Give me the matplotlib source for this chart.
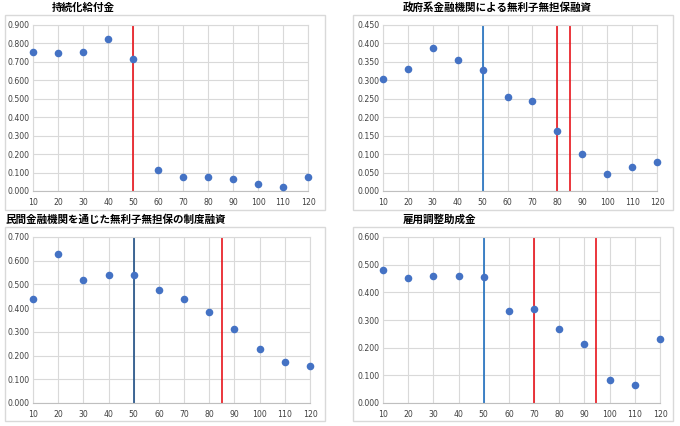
import numpy as np
import matplotlib.pyplot as plt
from matplotlib.patches import Rectangle
from matplotlib.ticker import FormatStrFormatter

plt.rcParams['font.family'] = ['Noto Sans CJK JP', 'DejaVu Sans']

# Data
x = [10, 20, 30, 40, 50, 60, 70, 80, 90, 100, 110, 120]

titles = ["持続化給付金",
          "政府系金融機関による無利子無担保融資",
          "民間金融機関を通じた無利子無担保の制度融資",
          "雇用調整助成金"]

kyufukin = [0.756, 0.747, 0.752, 0.823, 0.714, 0.116, 0.074, 0.076, 0.063, 0.036, 0.024, 0.078]
seifukei = [0.304, 0.330, 0.389, 0.356, 0.328, 0.254, 0.243, 0.162, 0.100, 0.047, 0.064, 0.078]
minkan = [0.439, 0.630, 0.520, 0.540, 0.541, 0.477, 0.440, 0.383, 0.311, 0.226, 0.172, 0.156]
koyou = [0.480, 0.453, 0.458, 0.459, 0.457, 0.331, 0.339, 0.267, 0.212, 0.084, 0.066, 0.231]
series = [kyufukin, seifukei, minkan, koyou]

ymax = [0.9, 0.45, 0.7, 0.6]
ystep = [0.1, 0.05, 0.1, 0.1]

# vertical reference lines: (x, colour)
vlines = [
    [(50, '#e8141b')],
    [(50, '#1f6fbf'), (80, '#e8141b'), (85, '#e8141b')],
    [(50, '#1f4f86'), (85, '#e8141b')],
    [(50, '#1f6fbf'), (70, '#e8141b'), (94.5, '#e8141b')],
]

W, H = 680, 426
fig = plt.figure(figsize=(6.8, 4.26), dpi=100)

# pixel layout: axes (left, right, top, bottom), box (left, right, top, bottom), title (x, y)
axes_px = [(33, 308, 25, 191), (383, 657, 25, 191), (33, 310, 237, 403), (383, 660, 237, 403)]
box_px = [(5, 325, 15, 210), (353, 673, 15, 210), (5, 325, 227, 421), (353, 673, 227, 421)]
title_px = [(52, 8), (403, 8), (6, 220), (403, 220)]

for i in range(4):
    bl, br, bt, bb = box_px[i]
    fig.patches.append(Rectangle((bl / W, 1 - bb / H), (br - bl) / W, (bb - bt) / H,
                                 transform=fig.transFigure, fill=False,
                                 edgecolor='#d9d9d9', linewidth=1.0))
    tx, ty = title_px[i]
    fig.text(tx / W, 1 - ty / H, titles[i], fontsize=7.6, fontweight='bold',
             ha='left', va='center', color='#000000')

    l, r, t, b = axes_px[i]
    ax = fig.add_axes([l / W, 1 - b / H, (r - l) / W, (b - t) / H])
    ax.set_xlim(10, 120)
    ax.set_ylim(0, ymax[i])
    ax.set_xticks(x)
    ax.set_yticks(np.arange(0, ymax[i] + ystep[i] / 2, ystep[i]))
    ax.yaxis.set_major_formatter(FormatStrFormatter('%.3f'))
    ax.grid(True, color='#d9d9d9', linewidth=0.8)
    ax.set_axisbelow(True)
    for s in ax.spines.values():
        s.set_color('#d9d9d9')
        s.set_linewidth(0.8)
    ax.spines['bottom'].set_color('#bfbfbf')
    ax.tick_params(length=0, labelsize=5.6, labelcolor='#404040')
    ax.tick_params(axis='x', pad=5)
    ax.tick_params(axis='y', pad=2.5)
    for lab in ax.get_xticklabels() + ax.get_yticklabels():
        lab.set_family('DejaVu Sans')

    for vx, vc in vlines[i]:
        ax.axvline(vx, color=vc, linewidth=1.2, zorder=2)
    ax.scatter(x, series[i], s=30, color='#4472c4', zorder=3, clip_on=False, linewidths=0)

fig.savefig('out.png', dpi=100)
